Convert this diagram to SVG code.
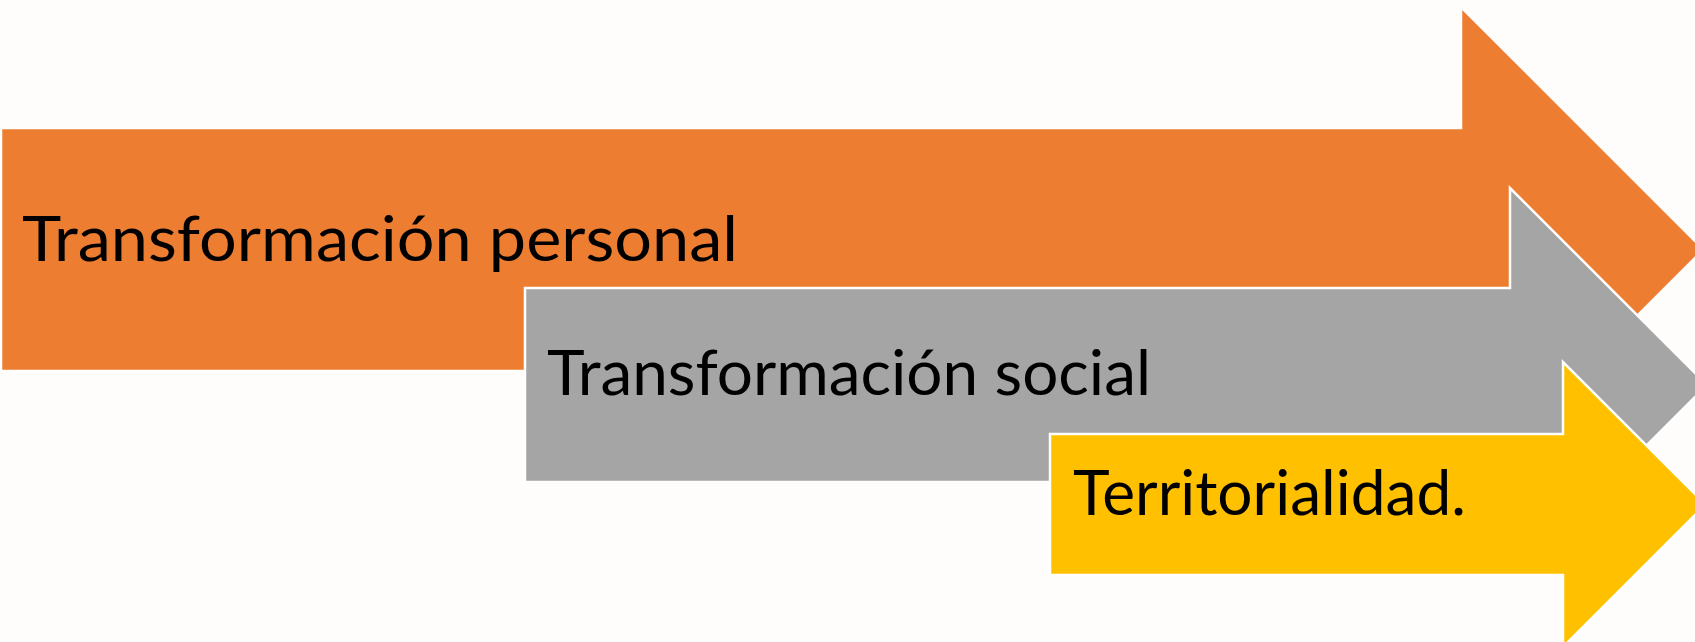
<svg xmlns="http://www.w3.org/2000/svg" width="1695" height="642" viewBox="0 0 1695 642">
<style>
.arr{stroke:#ffffff;stroke-width:2.5;stroke-linejoin:miter}
.lbl{font-family:Lato,"Open Sans","Liberation Sans",sans-serif;font-size:62px;fill:#000000}
</style>
<rect width="1695" height="642" fill="#fffdfb"/>
<g id="arrow-personal">
<path class="arr" fill="#ed7d31" d="M1,128 H1461 V7 L1703.5,249.5 L1461,492 V371 H1 Z"/>
<text class="lbl" x="22" y="261" textLength="716" lengthAdjust="spacingAndGlyphs">Transformación personal</text>
</g>
<g id="arrow-social">
<path class="arr" fill="#a5a5a5" d="M525,288 H1510 V188 L1707,385 L1520,572 H1510 V482 H525 Z"/>
<text class="lbl" x="547" y="395" textLength="604" lengthAdjust="spacingAndGlyphs">Transformación social</text>
</g>
<g id="arrow-territorialidad">
<path class="arr" fill="#ffc000" d="M1050,434 H1563 V362 L1705.5,504.5 L1563,647 V575 H1050 Z"/>
<text class="lbl" x="1073" y="515" textLength="393" lengthAdjust="spacingAndGlyphs">Territorialidad.</text>
</g>
<g id="connectors"/>
</svg>
